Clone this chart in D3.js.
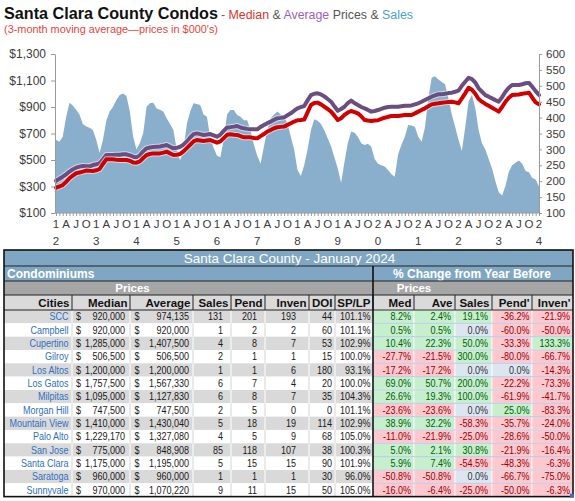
<!DOCTYPE html>
<html>
<head>
<meta charset="utf-8">
<script src="https://cdn.jsdelivr.net/npm/d3@7"></script>
<style>
body { margin: 0; background: #fff; }
svg { display: block; font-family: "Liberation Sans", Arial, sans-serif; }
</style>
</head>
<body>
<svg id="chart" width="575" height="501"></svg>
<script>
// monthly, Jan 2012 .. Jan 2024, 3-month moving average, prices in $000's
var medianK = [
  291, 300, 311, 335, 362, 382, 400, 406, 412, 420, 418, 417,
  422, 432, 470, 505, 505, 505, 502, 500, 500, 500, 495, 482,
  480, 490, 515, 538, 545, 550, 550, 550, 556, 563, 550, 538,
  540, 545, 565, 590, 615, 640, 651, 647, 643, 648, 651, 640,
  631, 640, 665, 690, 694, 690, 689, 680, 671, 671, 671, 666,
  664, 680, 696, 715, 726, 740, 747, 750, 752, 765, 777, 790,
  800, 802, 805, 860, 915, 930, 933, 920, 902, 885, 865, 835,
  802, 815, 840, 858, 870, 862, 852, 830, 802, 798, 795, 798,
  800, 810, 819, 826, 832, 832, 832, 836, 840, 840, 840, 852,
  865, 878, 890, 905, 920, 925, 928, 932, 935, 938, 940, 935,
  928, 965, 1003, 1045, 1030, 1000, 960, 940, 923, 910, 895, 880,
  865, 900, 940, 970, 990, 993, 995, 1000, 1003, 1008, 970, 935,
  920
];
var averageK = [
  344, 358, 374, 392, 412, 428, 442, 450, 455, 452, 452, 462,
  468, 475, 505, 538, 538, 538, 540, 540, 543, 543, 535, 525,
  520, 535, 565, 588, 594, 598, 600, 602, 607, 613, 600, 588,
  592, 600, 615, 640, 670, 695, 701, 695, 689, 692, 696, 686,
  676, 690, 720, 745, 748, 752, 757, 745, 739, 735, 732, 732,
  732, 750, 764, 778, 789, 803, 815, 818, 822, 838, 852, 872,
  890, 900, 907, 950, 990, 1000, 1003, 995, 980, 960, 940, 905,
  872, 885, 902, 930, 948, 930, 915, 900, 890, 878, 865, 870,
  877, 886, 895, 900, 902, 902, 902, 906, 910, 910, 912, 920,
  928, 940, 953, 965, 978, 988, 996, 997, 1000, 1005, 1008, 1015,
  1023, 1060, 1091, 1120, 1110, 1085, 1041, 1015, 990, 978, 965, 952,
  940, 975, 1015, 1045, 1066, 1066, 1066, 1072, 1079, 1082, 1053, 1020,
  990
];
var salesCount = [
  330, 324, 340, 400, 447, 438, 425, 410, 380, 372, 368, 361,
  330, 289, 330, 390, 419, 434, 455, 471, 476, 468, 420, 340,
  300, 320, 351, 434, 445, 447, 429, 425, 419, 398, 380, 361,
  300, 265, 300, 380, 419, 445, 443, 440, 410, 403, 335, 305,
  280, 275, 330, 410, 424, 424, 408, 403, 392, 392, 360, 315,
  280, 255, 310, 360, 398, 410, 419, 410, 403, 382, 340, 300,
  235, 216, 250, 300, 360, 395, 390, 380, 360, 335, 310, 275,
  240, 195, 260, 320, 356, 352, 340, 319, 314, 318, 308, 270,
  255, 250, 246, 235, 222, 214, 285, 315, 340, 377, 375, 371,
  340, 324, 370, 460, 525, 530, 520, 512, 505, 460, 410, 371,
  330, 295, 370, 450, 472, 430, 360, 319, 300, 270, 240, 200,
  165, 155, 185, 230, 250, 258, 265, 255, 232, 228, 210, 205,
  183
];

var priceTicks = [100, 300, 500, 700, 900, 1100, 1300];
var salesTicks = [100, 150, 200, 250, 300, 350, 400, 450, 500, 550, 600];
var quarterLetters = ["A", "J", "O"];
var yearTop = ["1", "1", "1", "1", "1", "1", "1", "1", "2", "2", "2", "2", "2"];
var yearBottom = ["2", "3", "4", "5", "6", "7", "8", "9", "0", "1", "2", "3", "4"];

// table - January 2024
var tableTitle = "Santa Clara County - January 2024";
var cities = ["SCC", "Campbell", "Cupertino", "Gilroy", "Los Altos", "Los Gatos", "Milpitas",
  "Morgan Hill", "Mountain View", "Palo Alto", "San Jose", "Santa Clara", "Saratoga", "Sunnyvale"];
var medianPrice = [920000, 920000, 1285000, 506500, 1200000, 1757500, 1095000, 747500, 1410000, 1229170, 775000, 1175000, 960000, 970000];
var averagePrice = [974135, 920000, 1407500, 506500, 1200000, 1567330, 1127830, 747500, 1430040, 1327080, 848908, 1195000, 960000, 1070220];
var sales = [131, 1, 4, 2, 1, 6, 6, 2, 5, 4, 85, 5, 1, 9];
var pend = [201, 2, 8, 1, 1, 7, 8, 5, 18, 5, 118, 15, 1, 11];
var inven = [193, 2, 7, 1, 6, 4, 7, 0, 19, 9, 107, 15, 1, 15];
var doi = [44, 60, 53, 15, 180, 20, 35, 0, 114, 68, 38, 90, 30, 50];
var spLp = [101.1, 101.1, 102.9, 100.0, 93.1, 100.0, 104.3, 101.1, 102.9, 105.0, 100.3, 101.9, 96.0, 105.0];
var chgMed = [8.2, 0.5, 10.4, -27.7, -17.2, 69.0, 26.6, -23.6, 38.9, -11.0, 5.0, 5.9, -50.8, -16.0];
var chgAve = [2.4, 0.5, 22.3, -21.5, -17.2, 50.7, 19.3, -23.6, 32.2, -21.9, 2.1, 7.4, -50.8, -6.4];
var chgSales = [19.1, 0.0, 50.0, 300.0, 0.0, 200.0, 100.0, 0.0, -58.3, -25.0, 30.8, -54.5, 0.0, -25.0];
var chgPend = [-36.2, -60.0, -33.3, -80.0, 0.0, -22.2, -61.9, 25.0, -35.7, -28.6, -21.9, -48.3, -66.7, -50.0];
var chgInven = [-21.9, -50.0, 133.3, -66.7, -14.3, -73.3, -41.7, -83.3, -24.0, -50.0, -16.4, -6.3, -75.0, -6.3];
var headers = ["Cities", "Median", "Average", "Sales", "Pend", "Inven", "DOI", "SP/LP", "Med", "Ave", "Sales", "Pend'", "Inven'"];

var svg = d3.select("#chart");
var narrowFont = "'Liberation Sans Narrow', 'Arial Narrow', sans-serif";

// when no narrow font is installed, scale the cell texts horizontally around their anchor
var probe = svg.append("text").style("font-family", narrowFont).style("font-size", "11px").text("0000000000");
var probeW = probe.node().getComputedTextLength();
probe.remove();
var squeezeK = probeW > 52 ? 0.82 : 1;
function cellText(parent, xPos, yPos, anchor, ink, str) {
  var t = parent.append("text").attr("x", xPos).attr("y", yPos)
    .attr("text-anchor", anchor).attr("fill", ink).text(str);
  if (squeezeK !== 1) {
    t.attr("transform", "translate(" + xPos + ",0) scale(" + squeezeK + ",1) translate(" + (-xPos) + ",0)");
  }
  return t;
}

// ---------- title ----------
svg.append("text")
  .attr("x", 4).attr("y", 18.5)
  .attr("font-size", 16.5).attr("font-weight", "bold").attr("fill", "#111")
  .attr("textLength", 214).attr("lengthAdjust", "spacingAndGlyphs")
  .text("Santa Clara County Condos");

var sub = svg.append("text").attr("x", 221).attr("y", 18.5).attr("font-size", 12.5)
  .attr("textLength", 192).attr("lengthAdjust", "spacingAndGlyphs");
sub.append("tspan").attr("fill", "#666").text("- ");
sub.append("tspan").attr("fill", "#d9352d").text("Median");
sub.append("tspan").attr("fill", "#555").text(" & ");
sub.append("tspan").attr("fill", "#9d5fbd").text("Average");
sub.append("tspan").attr("fill", "#555").text(" Prices & ");
sub.append("tspan").attr("fill", "#4a9fd8").text("Sales");

svg.append("text")
  .attr("x", 4).attr("y", 33)
  .attr("font-size", 11.5).attr("fill", "#e8453c")
  .attr("textLength", 214).attr("lengthAdjust", "spacingAndGlyphs")
  .text("(3-month moving average\u2014prices in $000's)");

// ---------- chart ----------
var x = d3.scaleLinear().domain([0, medianK.length - 1]).range([56, 539]);
var yL = d3.scaleLinear().domain([100, 1300]).range([213, 54]);
var yR = d3.scaleLinear().domain([100, 600]).range([213, 54]);

svg.append("path")
  .datum(salesCount)
  .attr("fill", "#8aafcc")
  .attr("d", d3.area().x(function(d, i) { return x(i); }).y0(yR(100)).y1(function(d) { return yR(d); }));

var priceLine = d3.line().x(function(d, i) { return x(i); }).y(function(d) { return yL(d); });

[[averageK, "#6b4e80"], [medianK, "#d10000"]].forEach(function(s) {
  svg.append("path").datum(s[0]).attr("fill", "none")
    .attr("stroke", "#fff").attr("stroke-opacity", 0.55).attr("stroke-width", 6)
    .attr("stroke-linejoin", "round").attr("d", priceLine);
  svg.append("path").datum(s[0]).attr("fill", "none")
    .attr("stroke", s[1]).attr("stroke-width", 4)
    .attr("stroke-linejoin", "round").attr("stroke-linecap", "round").attr("d", priceLine);
});

function styleAxis(g) {
  g.select(".domain").attr("stroke", "#9a9a9a");
  g.selectAll(".tick line").attr("stroke", "#9a9a9a");
  g.selectAll(".tick text").attr("fill", "#3a3a3a").attr("font-family", "'Liberation Sans', Arial, sans-serif");
}

svg.append("g").attr("transform", "translate(55,0)")
  .call(d3.axisLeft(yL).tickValues(priceTicks).tickSize(4).tickSizeOuter(0).tickPadding(5).tickFormat(d3.format("$,")))
  .call(styleAxis)
  .selectAll(".tick text").attr("font-size", 12);

svg.append("g").attr("transform", "translate(539,0)")
  .call(d3.axisRight(yR).tickValues(salesTicks).tickSize(3).tickSizeOuter(0).tickPadding(4))
  .call(styleAxis)
  .selectAll(".tick text").attr("font-size", 11.5);

svg.append("g").attr("transform", "translate(0,213)")
  .call(d3.axisBottom(x).tickValues(d3.range(0, medianK.length)).tickSize(3).tickSizeOuter(0).tickFormat(""))
  .call(styleAxis)
  .select(".domain").attr("d", "M55,0H539");

var xl = svg.append("g").attr("font-size", 11.5).attr("fill", "#3a3a3a").attr("text-anchor", "middle");
for (var m = 0; m < medianK.length; m += 3) {
  var q = (m / 3) % 4;
  var yr = Math.floor(m / 12);
  xl.append("text").attr("x", x(m)).attr("y", 228)
    .text(q === 0 ? yearTop[yr] : quarterLetters[q - 1]);
  if (q === 0) {
    xl.append("text").attr("x", x(m)).attr("y", 245).text(yearBottom[yr]);
  }
}

// ---------- table ----------
var cols = [
  { x0: 4, x1: 72, pad: 3.5 },
  { x0: 72, x1: 130, pad: 5 },
  { x0: 130, x1: 193, pad: 4 },
  { x0: 193, x1: 231, pad: 8 },
  { x0: 231, x1: 265, pad: 8 },
  { x0: 265, x1: 309, pad: 13 },
  { x0: 309, x1: 335, pad: 3 },
  { x0: 335, x1: 373, pad: 2.5 },
  { x0: 373, x1: 414, pad: 3 },
  { x0: 414, x1: 455, pad: 4 },
  { x0: 455, x1: 492, pad: 4 },
  { x0: 492, x1: 532, pad: 2.5 },
  { x0: 532, x1: 573, pad: 3 }
];
var tL = 4, tR = 573, tTop = 250;
var rTitle = 250, rCondo = 266, rPrices = 281, rHead = 295, rData = 310, rowH = 13.33;
var tBottom = rData + cities.length * rowH;
var blue = "#7fa6c2", darkGray = "#a6a6a6", lightGray = "#d9d9d9";

var tb = svg.append("g");
tb.append("rect").attr("x", tL).attr("y", rTitle).attr("width", tR - tL).attr("height", rPrices - rTitle).attr("fill", blue);
tb.append("rect").attr("x", tL).attr("y", rPrices).attr("width", tR - tL).attr("height", rHead - rPrices).attr("fill", darkGray);
tb.append("rect").attr("x", tL).attr("y", rHead).attr("width", tR - tL).attr("height", rData - rHead).attr("fill", "#dadada");

tb.append("text").attr("x", (tL + tR) / 2 + 1).attr("y", rTitle + 12.5)
  .attr("text-anchor", "middle").attr("fill", "#fff").attr("font-size", 13.5).text(tableTitle);
tb.append("text").attr("x", 7).attr("y", rCondo + 11.5)
  .attr("fill", "#fff").attr("font-size", 12).attr("font-weight", "bold").text("Condominiums");
tb.append("text").attr("x", (cols[8].x0 + tR) / 2 - 1).attr("y", rCondo + 11.5)
  .attr("text-anchor", "middle").attr("fill", "#fff").attr("font-size", 12).attr("font-weight", "bold")
  .text("% Change from Year Before");
tb.append("text").attr("x", (cols[1].x0 + cols[2].x1) / 2).attr("y", rPrices + 11)
  .attr("text-anchor", "middle").attr("fill", "#fff").attr("font-size", 11.5).attr("font-weight", "bold").text("Prices");
tb.append("text").attr("x", (cols[8].x0 + cols[9].x1) / 2).attr("y", rPrices + 11)
  .attr("text-anchor", "middle").attr("fill", "#fff").attr("font-size", 11.5).attr("font-weight", "bold").text("Prices");

headers.forEach(function(h, j) {
  tb.append("text").attr("x", cols[j].x1 - 2.5).attr("y", rHead + 11.5)
    .attr("text-anchor", "end").attr("font-size", 11.5).attr("font-weight", "bold").attr("fill", "#111").text(h);
});

var fmtInt = d3.format(",");
var fmtPct = function(v) { return v.toFixed(1) + "%"; };
var chgCols = [chgMed, chgAve, chgSales, chgPend, chgInven];
var textLayer = svg.append("g").style("font-family", narrowFont).attr("font-size", 11);

cities.forEach(function(c, k) {
  var y0 = rData + k * rowH;
  var shade = k % 2 === 0;
  var bg = shade ? lightGray : "#fff";
  var sep = shade ? "#fff" : "#d4d4d4";
  tb.append("rect").attr("x", tL).attr("y", y0).attr("width", cols[8].x0 - tL).attr("height", rowH).attr("fill", bg);
  for (var j = 1; j <= 7; j++) {
    tb.append("line").attr("x1", cols[j].x0).attr("x2", cols[j].x0).attr("y1", y0).attr("y2", y0 + rowH)
      .attr("stroke", sep).attr("stroke-width", 1);
  }
  var ty = y0 + 10.3;
  cellText(textLayer, cols[0].x1 - cols[0].pad, ty, "end", "#2f6fc0", c);
  cellText(textLayer, cols[1].x0 + 4, ty, "start", "#1a1a1a", "$");
  cellText(textLayer, cols[1].x1 - cols[1].pad, ty, "end", "#1a1a1a", fmtInt(medianPrice[k]));
  cellText(textLayer, cols[2].x0 + 4.5, ty, "start", "#1a1a1a", "$");
  cellText(textLayer, cols[2].x1 - cols[2].pad, ty, "end", "#1a1a1a", fmtInt(averagePrice[k]));
  [sales, pend, inven, doi].forEach(function(arr, a) {
    var cc = cols[3 + a];
    cellText(textLayer, cc.x1 - cc.pad, ty, "end", "#1a1a1a", arr[k]);
  });
  cellText(textLayer, cols[7].x1 - cols[7].pad, ty, "end", "#1a1a1a", fmtPct(spLp[k]));

  chgCols.forEach(function(arr, a) {
    var cc = cols[8 + a];
    var v = arr[k];
    var fill = v > 0 ? "#c6efce" : (v < 0 ? "#ffc7ce" : "#dce6f1");
    var ink = v > 0 ? "#006100" : (v < 0 ? "#9c0006" : "#333");
    tb.append("rect").attr("x", cc.x0).attr("y", y0).attr("width", cc.x1 - cc.x0).attr("height", rowH)
      .attr("fill", fill).attr("stroke", "#fff").attr("stroke-width", 0.8);
    cellText(textLayer, cc.x1 - cc.pad, ty, "end", ink, fmtPct(v));
  });
  if (k > 0) {
    tb.append("line").attr("x1", cols[8].x0).attr("x2", tR).attr("y1", y0).attr("y2", y0)
      .attr("stroke", "#9dbfe0").attr("stroke-width", 0.8);
  }
});

// grid lines of the header block
[rCondo, rPrices, rHead, rData].forEach(function(yy) {
  tb.append("line").attr("x1", tL).attr("x2", tR).attr("y1", yy).attr("y2", yy).attr("stroke", "#222").attr("stroke-width", 1);
});
cols.forEach(function(cc, j) {
  if (j === 0) return;
  tb.append("line").attr("x1", cc.x0).attr("x2", cc.x0).attr("y1", rHead).attr("y2", rData).attr("stroke", "#222").attr("stroke-width", 1);
});
tb.append("line").attr("x1", cols[8].x0).attr("x2", cols[8].x0).attr("y1", rCondo).attr("y2", tBottom)
  .attr("stroke", "#111").attr("stroke-width", 1.6);
tb.append("rect").attr("x", tL).attr("y", tTop).attr("width", tR - tL).attr("height", tBottom - tTop)
  .attr("fill", "none").attr("stroke", "#111").attr("stroke-width", 1.6);
tb.append("rect").attr("x", tR - 3).attr("y", tBottom - 3).attr("width", 4).attr("height", 4).attr("fill", "#3b6fc6");
textLayer.raise();
</script>
</body>
</html>
